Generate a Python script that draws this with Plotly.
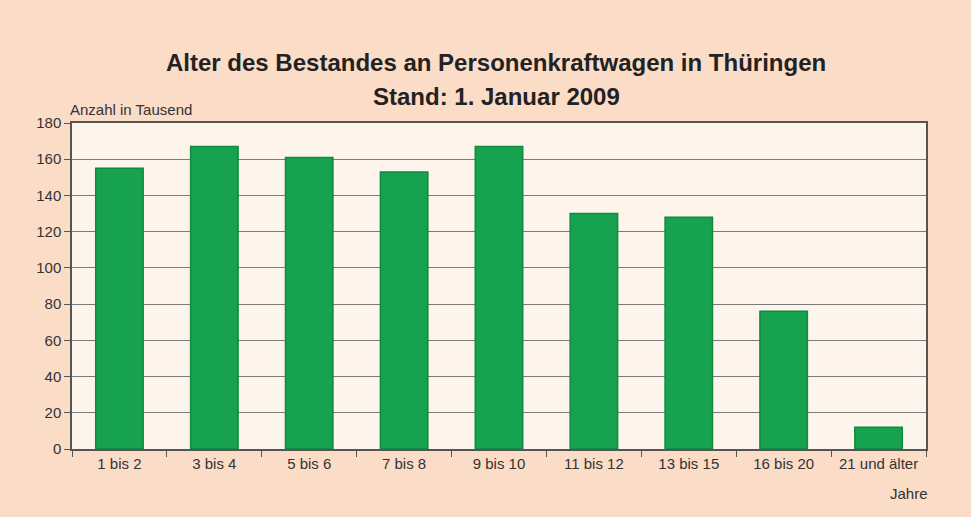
import plotly.graph_objects as go

categories = ["1 bis 2", "3 bis 4", "5 bis 6", "7 bis 8", "9 bis 10",
              "11 bis 12", "13 bis 15", "16 bis 20", "21 und älter"]
values = [155, 167, 161, 153, 167, 130, 128, 76, 12]
y_ticks = [0, 20, 40, 60, 80, 100, 120, 140, 160, 180]
title_line1 = "Alter des Bestandes an Personenkraftwagen in Thüringen"
title_line2 = "Stand: 1. Januar 2009"

fig = go.Figure()
fig.add_trace(go.Bar(
    x=categories, y=values,
    marker=dict(color="#17A24F", line=dict(color="#0F8A40", width=1.5)),
    width=0.5,
))

fig.update_layout(
    width=971, height=517,
    paper_bgcolor="#FBDCC7",
    plot_bgcolor="#FDF5EC",
    margin=dict(l=72, r=45, t=123, b=68),
    font=dict(family="Liberation Sans, Arial, sans-serif", color="#333333", size=15),
    showlegend=False,
    xaxis=dict(
        type="category", tickson="boundaries", ticks="outside", ticklen=6,
        tickcolor="#555555", showline=True, linecolor="#555555", linewidth=1.5,
        mirror=True, showgrid=False, tickfont=dict(size=15, color="#333333"),
    ),
    yaxis=dict(
        range=[0, 180], tickvals=y_ticks, ticks="outside", ticklen=6,
        tickcolor="#555555", showline=True, linecolor="#555555", linewidth=1.5,
        mirror=True, showgrid=True, gridcolor="#7A7A7A", gridwidth=1,
        zeroline=False, tickfont=dict(size=15, color="#333333"),
    ),
    annotations=[
        dict(text="<b>" + title_line1 + "</b>", xref="paper", yref="paper", x=0.497, y=1.187,
             xanchor="center", yanchor="middle", showarrow=False,
             font=dict(size=24, color="#222222")),
        dict(text="<b>" + title_line2 + "</b>", xref="paper", yref="paper", x=0.497, y=1.080,
             xanchor="center", yanchor="middle", showarrow=False,
             font=dict(size=24, color="#222222")),
        dict(text="Anzahl in Tausend", xref="paper", yref="paper", x=-0.005, y=1.01,
             xanchor="left", yanchor="bottom", showarrow=False,
             font=dict(size=15, color="#333333")),
        dict(text="Jahre", xref="paper", yref="paper", x=1.005, y=-0.105,
             xanchor="right", yanchor="top", showarrow=False,
             font=dict(size=15, color="#333333")),
    ],
)

fig.write_html("out.html", config={"displayModeBar": False},
               post_script="document.body.style.margin='0';")
